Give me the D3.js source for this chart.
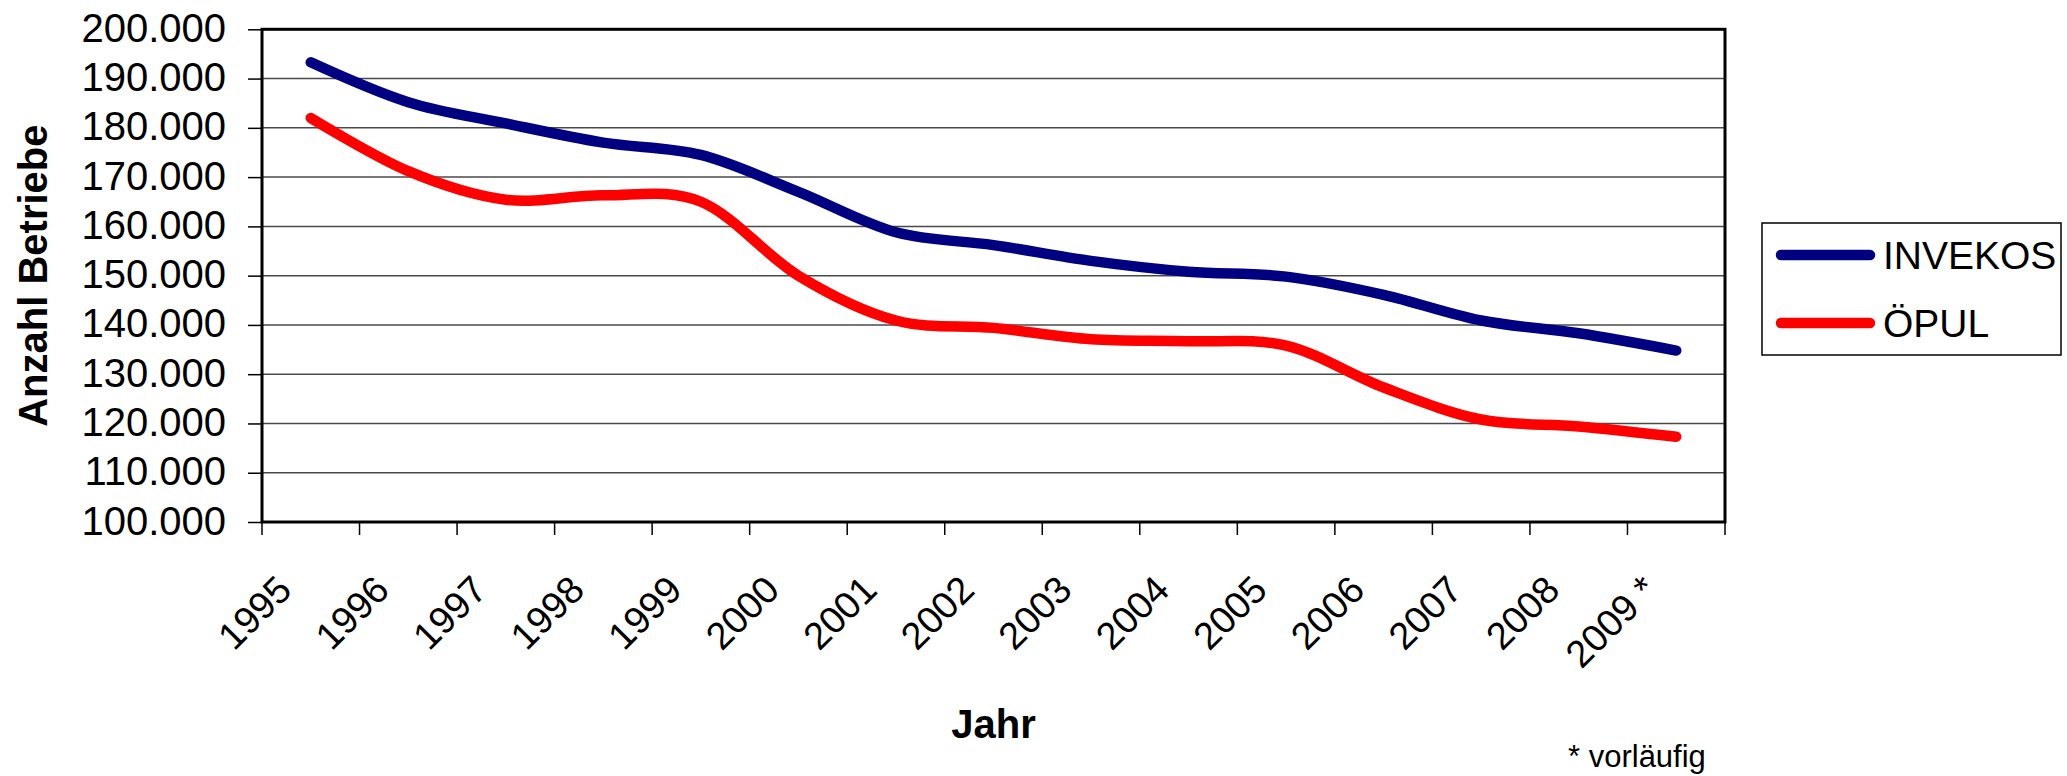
<!DOCTYPE html>
<html>
<head>
<meta charset="utf-8">
<script src="https://cdn.jsdelivr.net/npm/d3@7"></script>
<style>
  html, body { margin: 0; padding: 0; background: #fff; }
  text { font-family: "Liberation Sans", Arial, sans-serif; fill: #000; }
</style>
</head>
<body>
<script>
// ---- data ----
const categories = ["1995","1996","1997","1998","1999","2000","2001","2002","2003","2004","2005","2006","2007","2008","2009 *"];
const invekos = [193300,185200,180900,177000,174500,167000,158800,156200,153000,150800,149800,146100,140900,138300,134800];
const opul    = [182000,171200,165400,166300,165000,150000,140900,139400,137100,136700,135800,127300,120800,119400,117300];
const yTicks  = [100000,110000,120000,130000,140000,150000,160000,170000,180000,190000,200000];
const seriesNames = ["INVEKOS","ÖPUL"];
const seriesColors = ["#000080","#FF0000"];
const yTitle = "Anzahl Betriebe";
const xTitle = "Jahr";
const footnote = "* vorläufig";

// ---- layout ----
const W = 2067, H = 776;
const L = 262, R = 1725, T = 29.3, B = 522;

const svg = d3.select("body").append("svg")
  .attr("width", W).attr("height", H)
  .style("display","block").style("background","#fff");

const x = d3.scaleBand().domain(categories).range([L, R]).paddingInner(0).paddingOuter(0);
const y = d3.scaleLinear().domain([100000, 200000]).range([B, T]);

const de = d3.formatLocale({decimal: ",", thousands: ".", grouping: [3], currency: ["", " €"]});
const fmt = de.format(",");

// gridlines
svg.append("g").selectAll("line").data(yTicks).join("line")
  .attr("x1", L).attr("x2", R)
  .attr("y1", d => y(d)).attr("y2", d => y(d))
  .attr("stroke", "#4a4a4a").attr("stroke-width", 1.5);

// y axis
const gy = svg.append("g").attr("transform", `translate(${L},0)`)
  .call(d3.axisLeft(y).tickValues(yTicks).tickSize(14).tickPadding(22).tickFormat(fmt));
gy.select(".domain").remove();
gy.selectAll(".tick line").attr("stroke", "#000").attr("stroke-width", 1.5);
gy.selectAll(".tick text").attr("font-size", 40).attr("dy", "0.3em")
  .style("font-family", "'Liberation Sans', Arial, sans-serif").attr("fill", "#000");

// x axis labels
const gx = svg.append("g").attr("transform", `translate(0,${B})`)
  .call(d3.axisBottom(x).tickSize(0).tickPadding(0));
gx.select(".domain").remove();
gx.selectAll(".tick text")
  .attr("x", 0).attr("y", 0).attr("dy", null)
  .attr("text-anchor", "end")
  .attr("font-size", 38)
  .style("font-family", "'Liberation Sans', Arial, sans-serif").attr("fill", "#000")
  .attr("transform", "translate(-17,70) rotate(-45)");

// x tick marks at category boundaries
const edges = categories.map(c => x(c)).concat([x.range()[1]]);
svg.append("g").selectAll("line").data(edges).join("line")
  .attr("x1", d => d).attr("x2", d => d)
  .attr("y1", B).attr("y2", B + 13)
  .attr("stroke", "#000").attr("stroke-width", 1.5);

// plot frame
svg.append("rect")
  .attr("x", L).attr("y", T).attr("width", R - L).attr("height", B - T)
  .attr("fill", "none").attr("stroke", "#000").attr("stroke-width", 3);

// lines
const line = d3.line()
  .x((d, i) => x(categories[i]) + x.bandwidth() / 2)
  .y(d => y(d))
  .curve(d3.curveCardinal.tension(0));

[invekos, opul].forEach((s, k) => {
  svg.append("path").datum(s)
    .attr("d", line)
    .attr("fill", "none")
    .attr("stroke", seriesColors[k])
    .attr("stroke-width", 10.5)
    .attr("stroke-linecap", "round")
    .attr("stroke-linejoin", "round");
});

// legend
const lg = svg.append("g");
lg.append("rect").attr("x", 1762).attr("y", 223).attr("width", 299).attr("height", 132)
  .attr("fill", "#fff").attr("stroke", "#000").attr("stroke-width", 1.5);
seriesNames.forEach((n, k) => {
  const yy = 255 + k * 68;
  lg.append("line").attr("x1", 1781).attr("x2", 1870).attr("y1", yy).attr("y2", yy)
    .attr("stroke", seriesColors[k]).attr("stroke-width", 10.5).attr("stroke-linecap", "round");
  lg.append("text").attr("x", 1883).attr("y", yy + 14).attr("font-size", 39).text(n);
});

// axis titles
svg.append("text")
  .attr("transform", `translate(47,${(T + B) / 2}) rotate(-90)`)
  .attr("text-anchor", "middle").attr("font-size", 40).attr("font-weight", "bold")
  .text(yTitle);
svg.append("text")
  .attr("x", (L + R) / 2).attr("y", 738)
  .attr("text-anchor", "middle").attr("font-size", 40).attr("font-weight", "bold")
  .text(xTitle);

// footnote
svg.append("text").attr("x", 1568).attr("y", 767).attr("font-size", 31).text(footnote);
</script>
</body>
</html>
